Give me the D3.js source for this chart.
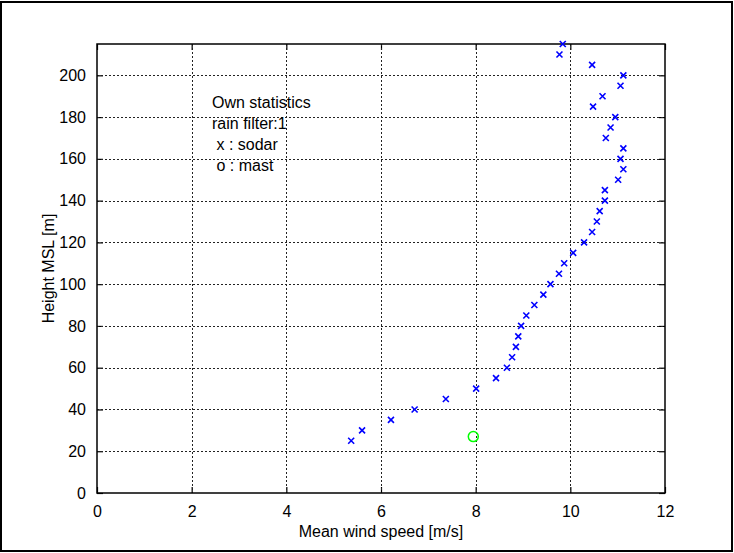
<!DOCTYPE html>
<html>
<head>
<meta charset="utf-8">
<script src="https://cdn.jsdelivr.net/npm/d3@7"></script>
<style>
  html, body { margin: 0; padding: 0; background: #fff; }
  svg { display: block; font-family: Arial, "Liberation Sans", sans-serif; }
</style>
</head>
<body>
<svg id="chart" width="734" height="553"></svg>
<script>
// Sodar measurements: mean wind speed [m/s] at height MSL [m]
const sodarHeights = [25, 30, 35, 40, 45, 50, 55, 60, 65, 70, 75, 80, 85, 90, 95, 100, 105, 110, 115, 120, 125, 130, 135, 140, 145, 150, 155, 160, 165, 170, 175, 180, 185, 190, 195, 200, 205, 210, 215];
const sodarSpeeds  = [5.37, 5.60, 6.21, 6.71, 7.37, 8.01, 8.43, 8.66, 8.77, 8.85, 8.90, 8.96, 9.07, 9.24, 9.43, 9.58, 9.76, 9.87, 10.06, 10.29, 10.46, 10.56, 10.62, 10.73, 10.73, 11.01, 11.12, 11.06, 11.12, 10.75, 10.85, 10.95, 10.48, 10.68, 11.06, 11.12, 10.46, 9.77, 9.84];
// Mast measurement
const mastHeights = [27];
const mastSpeeds  = [7.95];

const xTicks = [0, 2, 4, 6, 8, 10, 12];
const yTicks = [0, 20, 40, 60, 80, 100, 120, 140, 160, 180, 200];
const annotationLines = ["Own statistics", "rain filter:1", " x : sodar", " o : mast"];

const svg = d3.select("#chart");
const W = 734, H = 553;
const L = 97, R = 665, T = 44, B = 493;

// outer frame (no fill; page background is white)
svg.append("rect").attr("x", 1).attr("y", 2).attr("width", W - 3).attr("height", H - 4)
  .attr("fill", "none").attr("stroke", "#000").attr("stroke-width", 2);

const x = d3.scaleLinear().domain([0, 12]).range([L, R]);
const y = d3.scaleLinear().domain([0, 215]).range([B, T]);

// axes
const fontSize = 16;
const ax = svg.append("g").attr("transform", `translate(0,${B})`)
  .call(d3.axisBottom(x).tickValues(xTicks).tickSize(-6).tickPadding(13).tickSizeOuter(0));
const axTop = svg.append("g").attr("transform", `translate(0,${T})`)
  .call(d3.axisTop(x).tickValues(xTicks).tickSize(-6).tickFormat("").tickSizeOuter(0));
const ay = svg.append("g").attr("transform", `translate(${L},0)`)
  .call(d3.axisLeft(y).tickValues(yTicks).tickSize(-6).tickPadding(11).tickSizeOuter(0));
const ayR = svg.append("g").attr("transform", `translate(${R},0)`)
  .call(d3.axisRight(y).tickValues(yTicks).tickSize(-6).tickFormat("").tickSizeOuter(0));
[ax, axTop, ay, ayR].forEach(g => {
  g.select(".domain").remove();
  g.selectAll("line").attr("stroke", "#000").attr("stroke-width", 1.2);
  g.selectAll("text").attr("fill", "#000").style("font-size", fontSize + "px")
    .style("font-family", "Arial, 'Liberation Sans', sans-serif");
});

// dotted grid, drawn on top of the axes ticks
const grid = svg.append("g").attr("class", "grid");
grid.selectAll("line.gx").data(xTicks.slice(1, -1)).join("line").attr("class", "gx")
  .attr("x1", d => Math.round(x(d)) + 0.5).attr("x2", d => Math.round(x(d)) + 0.5)
  .attr("y1", T).attr("y2", B);
grid.selectAll("line.gy").data(yTicks.slice(1)).join("line").attr("class", "gy")
  .attr("x1", L).attr("x2", R)
  .attr("y1", d => Math.round(y(d)) + 0.5).attr("y2", d => Math.round(y(d)) + 0.5);
grid.selectAll("line")
  .style("stroke", "#222").style("stroke-width", "1px").style("stroke-dasharray", "2 2");

// box
svg.append("rect").attr("x", L).attr("y", T).attr("width", R - L).attr("height", B - T)
  .attr("fill", "none").attr("stroke", "#000").attr("stroke-width", 1.5);

// axis labels
svg.append("text").attr("x", (L + R) / 2).attr("y", 537).attr("text-anchor", "middle")
  .style("font-size", fontSize + "px").text("Mean wind speed [m/s]");
svg.append("text").attr("transform", `translate(54,${(T + B) / 2}) rotate(-90)`).attr("text-anchor", "middle")
  .style("font-size", fontSize + "px").text("Height MSL [m]");

// sodar points (x markers)
const s = 3;
const sodar = sodarSpeeds.map((v, i) => ({ v, h: sodarHeights[i] }));
svg.append("g").selectAll("path").data(sodar).join("path")
  .attr("d", d => {
    const cx = x(d.v), cy = y(d.h);
    return `M${cx - s},${cy - s}L${cx + s},${cy + s}M${cx - s},${cy + s}L${cx + s},${cy - s}`;
  })
  .attr("stroke", "#0000ff").attr("stroke-width", 1.6).attr("fill", "none");

// mast points (circles)
const mast = mastSpeeds.map((v, i) => ({ v, h: mastHeights[i] }));
svg.append("g").selectAll("circle").data(mast).join("circle")
  .attr("cx", d => x(d.v)).attr("cy", d => y(d.h)).attr("r", 5)
  .attr("fill", "none").attr("stroke", "#00ff00").attr("stroke-width", 1.5);

// annotation
const ann = svg.append("text").style("font-size", fontSize + "px").attr("xml:space", "preserve");
annotationLines.forEach((t, i) => {
  ann.append("tspan").attr("x", 212).attr("y", 107.5 + i * 21).style("white-space", "pre").text(t);
});
</script>
</body>
</html>
